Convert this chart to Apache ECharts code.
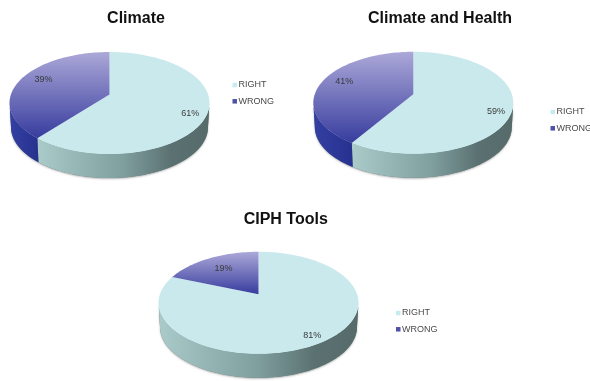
<!DOCTYPE html>
<html>
<head>
<meta charset="utf-8">
<style>html,body{margin:0;padding:0;background:#fff}#chart{width:590px;height:381px}</style>
<script src="https://cdn.jsdelivr.net/npm/echarts@6/dist/echarts.min.js"></script>
</head>
<body>
<div id="chart"></div>
<script>
// Survey answers, in percent
const categories = ['RIGHT', 'WRONG'];
const chartTitles = ['Climate', 'Climate and Health', 'CIPH Tools'];
const climateValues = [61, 39];
const climateHealthValues = [59, 41];
const ciphToolsValues = [81, 19];

// Placement of each pie, its title and its legend
const panels = [
  { values: climateValues, cx: 109.5, cy: 94.5, titleX: 136, titleY: 18.5, legendX: 232.5, legendY: 80.5,
    labelShift: [[3, 4.5], [5, -2.5]] },
  { values: climateHealthValues, cx: 413.3, cy: 94.3, titleX: 440, titleY: 18.5, legendX: 550.5, legendY: 107.5,
    labelShift: [[4, 6], [4, -2.6]] },
  { values: ciphToolsValues, cx: 258.5, cy: 294.3, titleX: 285.7, titleY: 220, legendX: 396, legendY: 308.5,
    labelShift: [[4, 4], [5, 3.5]] }
];

// Tilted-disc projection shared by all pies
const tilt = 0.1667, halfW = 98.6, halfH = 49.6, depth = 24, labelRadius = 0.8, lowerScale = 0.985;
const project = (p, a, r) => {
  const u = r * Math.sin(a), v = r * Math.cos(a), w = 1 + tilt * v;
  return [p.cx + halfW * u / w, p.cy - halfH * v / w];
};
const arc = (p, from, to) => {
  const n = Math.max(2, Math.ceil((to - from) / 0.03));
  const pts = [];
  for (let i = 0; i <= n; i++) pts.push(project(p, from + (to - from) * i / n, 1));
  return pts;
};
const wallFrom = Math.PI / 2 + Math.asin(tilt);
const wallTo = 3 * Math.PI / 2 - Math.asin(tilt);
const wallPoints = (p, from, to) => {
  const edge = arc(p, from, to);
  const lower = edge.map(q => [p.cx + (q[0] - p.cx) * lowerScale, q[1] + depth]).reverse();
  return edge.concat(lower);
};

const grad = (x2, y2, stops) => new echarts.graphic.LinearGradient(0, 0, x2, y2,
  stops.map(s => ({ offset: s[0], color: s[1] })));
const topFill = [
  () => '#c9e9ed',
  () => grad(0, 1, [[0, '#aca8d8'], [1, '#373c9e']])
];
const wallFill = [
  () => grad(1, 0, [[0, '#aacbca'], [0.5, '#7f9e9e'], [0.78, '#5b7171'], [1, '#566a6a']]),
  () => grad(1, 0, [[0, '#3440a2'], [1, '#26318f']])
];
const legendColor = ['#c6ecef', '#4f50a8'];

const series = [];
panels.forEach(p => {
  const total = p.values.reduce((s, v) => s + v, 0);
  let start = 0;
  p.values.forEach((value, i) => {
    const a0 = start / total * 2 * Math.PI;
    start += value;
    const a1 = start / total * 2 * Math.PI;
    series.push({
      type: 'custom',
      name: categories[i],
      coordinateSystem: 'none',
      silent: true,
      clip: false,
      itemStyle: { color: legendColor[i] },
      data: [value],
      renderItem: () => {
        const children = [];
        // Soft shadow under the whole rim, laid down once per pie
        if (i === 0) {
          children.push({ type: 'polygon', shape: { points: wallPoints(p, wallFrom, wallTo) },
            style: { fill: '#6b8080', shadowColor: 'rgba(0,0,0,0.3)', shadowBlur: 2, shadowOffsetY: 1 } });
        }
        const w0 = Math.max(a0, wallFrom), w1 = Math.min(a1, wallTo);
        if (w1 > w0) {
          children.push({ type: 'polygon', shape: { points: wallPoints(p, w0, w1) },
            style: { fill: wallFill[i]() } });
        }
        children.push({ type: 'polygon', shape: { points: [[p.cx, p.cy]].concat(arc(p, a0, a1)) },
          style: { fill: topFill[i]() } });
        const mid = project(p, (a0 + a1) / 2, labelRadius);
        children.push({ type: 'text', z2: 10, style: {
          x: mid[0] + p.labelShift[i][0], y: mid[1] + p.labelShift[i][1],
          text: Math.round(value / total * 100) + '%', align: 'center', verticalAlign: 'middle',
          font: '9px "Liberation Sans", Arial, sans-serif', fill: '#3a3a3a' } });
        return { type: 'group', children };
      }
    });
  });
});

const chart = echarts.init(document.getElementById('chart'), null, { renderer: 'canvas' });
chart.setOption({
  animation: false,
  backgroundColor: '#ffffff',
  title: panels.map((p, i) => ({
    text: chartTitles[i], left: p.titleX, top: p.titleY, textAlign: 'center', textVerticalAlign: 'middle',
    padding: 0,
    textStyle: { fontFamily: '"Liberation Sans", Arial, sans-serif', fontWeight: 'bold', fontSize: 16, color: '#111' }
  })),
  legend: panels.map(p => ({
    data: categories, orient: 'vertical', left: p.legendX, top: p.legendY, padding: 0,
    itemWidth: 4.5, itemHeight: 4.5, itemGap: 7.3, icon: 'rect', selectedMode: false,
    textStyle: { fontFamily: '"Liberation Sans", Arial, sans-serif', fontSize: 9, color: '#4a4a4a', padding: [2, 0, 0, -3.5] }
  })),
  series
});
</script>
</body>
</html>
